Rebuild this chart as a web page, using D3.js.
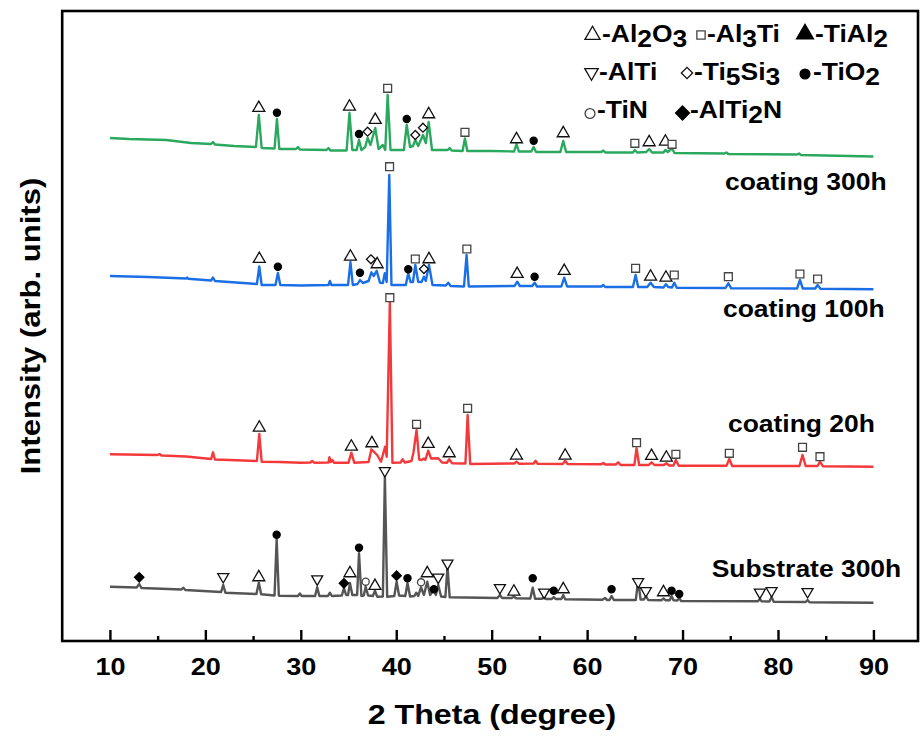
<!DOCTYPE html>
<html><head><meta charset="utf-8">
<script src="https://cdn.jsdelivr.net/npm/d3@7"></script>
<style>
html,body{margin:0;padding:0;background:#fff;}
svg text{font-family:"Liberation Sans",Arial,sans-serif;font-weight:bold;fill:#000;}
</style></head>
<body><svg id="chart" width="920" height="736"></svg>
<script>
// ---- data: [2theta, intensity (arb. units, stacked)] ----
const substrate300 = [[10.0,54.3],[12.8,53.5],[13.07,57],[13.3,53],[17.5,51.5],[17.7,53.3],[17.9,51],[21.65,49],[21.87,56],[22.1,48.3],[25.35,47],[25.6,58.3],[25.85,46.7],[27.25,45.5],[27.47,101.7],[27.7,45.3],[29.7,45],[29.9,47.5],[30.1,45],[31.5,45],[31.72,53.7],[31.95,45],[32.85,45],[33.05,48.3],[33.25,45],[34.3,45.5],[34.52,52.7],[34.75,46],[34.95,46],[35.15,58],[35.4,46],[35.9,46],[36.1,87.7],[36.35,45],[36.6,45.5],[36.8,54.3],[37.05,45.5],[37.55,45],[37.77,50.3],[38.0,44.3],[38.6,44.5],[38.81,165],[39.05,44.3],[39.8,45],[40.04,59.3],[40.3,45.5],[40.95,45],[41.18,57.7],[41.45,44.5],[41.9,45],[42.1,48.3],[42.3,45],[42.6,53.7],[42.9,46],[43.25,59.3],[43.55,46],[43.95,52],[44.15,46],[44.4,56],[44.7,44.5],[45.15,44],[45.37,74.3],[45.6,43.7],[50.6,43],[50.86,46],[51.1,43],[52.1,43],[52.33,44.5],[52.55,42.8],[54.05,42.5],[54.3,53.3],[54.55,42.3],[55.3,42.3],[55.5,44],[55.7,42],[56.3,42],[56.5,44],[56.7,42],[57.3,42],[57.5,46],[57.7,41.7],[61.6,41.3],[61.87,43],[62.1,41],[62.35,41],[62.56,45],[62.8,41],[65.1,41],[65.35,61],[65.6,41.5],[65.95,41.5],[66.16,45],[66.4,41],[67.8,40.8],[68.0,42.5],[68.2,40.8],[68.65,40.8],[68.85,45],[69.05,40.8],[69.45,40.5],[69.65,43],[69.85,40],[77.9,39.7],[78.1,42],[78.3,39.6],[79.1,39.5],[79.33,44],[79.55,39.3],[82.9,39],[83.1,41],[83.3,38.8],[90,38.3]];

const coating20 = [[10.0,186.7],[15.0,186],[15.2,187],[15.4,185.5],[18.0,184.5],[20.6,182],[20.8,188.7],[21.0,181.5],[24.7,180.3],[25.4,180],[25.65,207],[25.9,179.3],[27.8,179],[30.0,178.3],[31.0,178.5],[31.2,180],[31.4,178.3],[32.9,178.5],[33.0,183.7],[33.15,179],[33.3,181],[33.5,178.3],[35.0,178.3],[35.3,188.3],[35.6,178.3],[37.1,179],[37.4,191.7],[38.0,186],[38.4,179.3],[38.83,194.3],[39.0,184.3],[39.33,339],[39.6,178.3],[40.45,178.5],[40.66,181.7],[40.9,178.5],[41.6,180],[41.8,188.3],[42.13,211],[42.4,181.5],[42.65,181],[42.9,182.5],[43.05,181],[43.35,190.3],[43.65,182.5],[44.4,182.7],[44.8,178.5],[45.3,178.3],[45.55,181.7],[45.85,177.7],[47.25,177.5],[47.48,226],[47.75,177],[52.35,177.5],[52.6,179.3],[52.85,177.3],[54.4,177.5],[54.6,180.3],[54.8,177.3],[57.45,177],[57.7,180.3],[57.95,177],[61.5,176.7],[61.7,178],[61.9,176.5],[63.0,176.5],[63.26,178.7],[63.5,176],[64.95,176],[65.18,192.7],[65.45,176],[66.45,176],[66.75,178.7],[67.05,176],[68.05,176],[68.3,177.7],[68.6,175.5],[69.05,175.5],[69.3,181],[69.6,175.3],[74.6,175.3],[74.9,182],[75.2,175],[82.25,175],[82.57,186],[82.9,175],[84.15,175],[84.4,179.3],[84.7,174.8],[90,174.3]];

const coating100 = [[10.0,365],[14.0,364],[18.0,362.5],[18.1,363.5],[18.2,362.3],[20.6,360.5],[20.8,363.5],[21.0,360],[24.7,357.5],[25.4,357],[25.65,374.5],[25.9,356],[27.35,356],[27.6,368],[27.85,356],[30,355.5],[32.9,356],[33.05,360],[33.2,356],[34.95,356],[35.2,379],[35.45,356],[35.95,357],[36.2,361],[36.5,358],[37.1,360],[37.4,368.7],[37.65,365],[37.95,370.3],[38.3,358.3],[38.6,358],[38.8,367.7],[39.0,359],[39.27,466],[39.5,356],[41.0,356],[41.26,367.7],[41.5,359],[41.75,359],[42.0,376],[42.3,359.3],[42.65,359],[42.9,364.3],[43.1,360],[43.43,376],[43.8,356],[45.2,355.5],[45.45,358.3],[45.7,355],[47.1,354.5],[47.37,386],[47.6,354.5],[52.4,355],[52.67,359.3],[52.95,355],[54.25,355],[54.5,358.3],[54.75,354.5],[57.3,354.5],[57.6,363.3],[57.9,354.5],[61.5,354.5],[61.7,356],[61.9,354],[64.8,354],[65.08,366],[65.35,354],[66.3,354],[66.65,358.3],[67.0,354],[68.0,353.5],[68.26,356.7],[68.5,354],[68.9,353.5],[69.13,358.3],[69.4,353.3],[74.5,353],[74.8,357.7],[75.1,352.7],[82.0,352.5],[82.3,361],[82.6,352.5],[83.9,352.5],[84.15,356],[84.45,352.3],[90,351.7]];

const coating300 = [[10.0,503],[12.0,502],[15.9,501],[18.5,498],[20.6,497],[20.8,499],[21.0,496.5],[23.0,495],[25.3,494],[25.6,526],[25.9,493],[27.25,492.5],[27.5,522],[27.75,492],[29.5,492],[29.7,494],[29.9,491.5],[32.7,491],[32.9,493],[33.1,490.5],[34.8,490.5],[35.1,528],[35.4,491],[35.85,491],[36.1,501],[36.35,491],[36.75,494],[37.0,503],[37.3,496],[37.8,513],[38.15,492],[38.6,496],[38.85,491],[39.1,546],[39.4,491],[40.8,491],[41.1,516],[41.45,494],[41.75,495],[42.0,501],[42.3,495],[42.8,506],[43.1,498],[43.4,519],[43.75,491],[45.4,491],[45.6,493],[45.8,490.5],[46.95,490],[47.2,502.5],[47.45,490],[50.0,490],[52.35,489.5],[52.6,497],[52.85,489.5],[54.15,489.5],[54.4,494],[54.65,489],[57.2,489],[57.5,500],[57.8,489],[61.5,489],[61.7,490.5],[61.9,488.5],[64.8,488.5],[65.0,491],[65.25,488.5],[66.2,489],[66.5,492],[66.8,488.5],[68.0,488.5],[68.2,491],[68.45,489],[68.9,492.5],[69.15,488],[74.4,487.5],[74.6,488.5],[74.8,487],[82.0,486.5],[82.2,487.5],[82.4,486],[90.0,484.5]];

// phase markers: [2theta, intensity, phase]
const marks300 = [[25.6,533,"Al2O3"],[27.5,528.3,"TiO2"],[35.1,534.3,"Al2O3"],[36.1,507,"TiO2"],[37.0,509.3,"Ti5Si3"],[37.8,521,"Al2O3"],[39.1,552.7,"Al3Ti"],[41.1,522,"TiO2"],[42.0,506,"Ti5Si3"],[42.8,513.3,"Ti5Si3"],[43.4,526.7,"Al2O3"],[47.2,508.7,"Al3Ti"],[52.6,501.7,"Al2O3"],[54.4,500.3,"TiO2"],[57.5,507.7,"Al2O3"],[65.0,497.7,"Al3Ti"],[66.5,498.7,"Al2O3"],[68.2,499.3,"Al2O3"],[68.9,496.7,"Al3Ti"]];
const marks100 = [[25.65,382,"Al2O3"],[27.6,374.3,"TiO2"],[35.2,384.3,"Al2O3"],[36.2,368.3,"TiO2"],[37.35,381.7,"Ti5Si3"],[38.0,376.7,"Al2O3"],[39.3,474.3,"Al3Ti"],[41.26,371.7,"TiO2"],[42.0,382,"Al3Ti"],[42.9,372,"Ti5Si3"],[43.43,381.7,"Al2O3"],[47.4,392,"Al3Ti"],[52.67,367,"Al2O3"],[54.5,364.3,"TiO2"],[57.6,370,"Al2O3"],[65.08,372.7,"Al3Ti"],[66.65,364.3,"Al2O3"],[68.26,363.3,"Al2O3"],[69.13,366,"Al3Ti"],[74.8,364.3,"Al3Ti"],[82.3,367,"Al3Ti"],[84.15,362,"Al3Ti"]];
const marks20 = [[25.65,213.3,"Al2O3"],[35.3,194.3,"Al2O3"],[37.45,197.7,"Al2O3"],[39.33,343.3,"Al3Ti"],[42.13,216.7,"Al3Ti"],[43.35,197,"Al2O3"],[45.55,187.7,"Al2O3"],[47.48,232.7,"Al3Ti"],[52.6,185.3,"Al2O3"],[57.7,185.3,"Al2O3"],[65.18,198.3,"Al3Ti"],[66.75,185,"Al2O3"],[68.3,183.3,"Al2O3"],[69.3,186.7,"Al3Ti"],[74.9,187.7,"Al3Ti"],[82.57,193.7,"Al3Ti"],[84.4,184.3,"Al3Ti"]];
const marksSub = [[13.07,63.7,"AlTi2N"],[21.87,64.3,"AlTi"],[25.6,63.7,"Al2O3"],[27.47,106.3,"TiO2"],[31.72,62,"AlTi"],[34.52,57.7,"AlTi2N"],[35.15,67.7,"Al2O3"],[36.1,93.3,"TiO2"],[36.8,59.3,"TiN"],[37.77,55,"Al2O3"],[38.81,170.3,"AlTi"],[40.04,65.3,"AlTi2N"],[41.18,62.7,"TiO2"],[42.6,58.7,"TiN"],[43.25,67.7,"Al2O3"],[43.95,51.7,"TiO2"],[44.4,63.7,"AlTi"],[45.37,77.7,"AlTi"],[50.86,53.3,"AlTi"],[52.33,49.3,"Al2O3"],[54.3,62.7,"TiO2"],[55.5,48.7,"AlTi"],[56.5,50.3,"TiO2"],[57.5,51.7,"Al2O3"],[62.56,51.7,"TiO2"],[65.35,59.3,"AlTi"],[66.16,50.3,"AlTi"],[68.0,48.7,"Al2O3"],[68.85,50.3,"TiO2"],[69.65,47,"TiO2"],[78.1,48.7,"AlTi"],[79.33,50.3,"AlTi"],[83.1,49.3,"AlTi"]];

const seriesNames = ["Substrate 300h","coating 20h","coating 100h","coating 300h"];
const seriesColors = ["#555555","#f4393b","#1b6fe6","#2aa85e"];
const xTicks = [10,20,30,40,50,60,70,80,90];
const xMinorTicks = [15,25,35,45,55,65,75,85];
const phases = ["Al2O3","Al3Ti","TiAl2","AlTi","Ti5Si3","TiO2","TiN","AlTi2N"];

// ---- drawing ----
const svg = d3.select("#chart");
const L = 62.2, R = 918, T = 11, B = 641;
const x = d3.scaleLinear().domain([5, 94.67]).range([L, R]);
const y = d3.scaleLinear().domain([0, 630]).range([B, T]);
const SX = 1.15;

// marker shapes
const shapes = {
  "Al2O3": {type: d3.symbolTriangle, size: 62, rot: 0, fill: "#fff", stroke: "#111"},
  "Al3Ti": {type: d3.symbolSquare, size: 62, rot: 0, fill: "#fff", stroke: "#444"},
  "TiAl2": {type: d3.symbolTriangle, size: 62, rot: 0, fill: "#000", stroke: "#000"},
  "AlTi": {type: d3.symbolTriangle, size: 52, rot: 180, fill: "#fff", stroke: "#111"},
  "Ti5Si3": {type: d3.symbolSquare, size: 40, rot: 45, fill: "#fff", stroke: "#111"},
  "TiO2": {type: d3.symbolCircle, size: 40, rot: 0, fill: "#000", stroke: "#000"},
  "TiN": {type: d3.symbolCircle, size: 40, rot: 0, fill: "#fff", stroke: "#444"},
  "AlTi2N": {type: d3.symbolSquare, size: 44, rot: 45, fill: "#000", stroke: "#000"}
};
function drawSymbol(g, phase, cx, cy, scale) {
  const s = shapes[phase];
  g.append("path")
    .attr("d", d3.symbol().type(s.type).size(s.size * (scale || 1))())
    .attr("transform", `translate(${cx},${cy}) rotate(${s.rot})`)
    .attr("fill", s.fill).attr("stroke", s.stroke).attr("stroke-width", 1.3);
}

const line = d3.line().x(d => x(d[0])).y(d => y(d[1]));
const allSeries = [substrate300, coating20, coating100, coating300];
const allMarks = [marksSub, marks20, marks100, marks300];

const plot = svg.append("g");
allSeries.forEach((s, i) => {
  plot.append("path").datum(s).attr("d", line)
    .attr("fill", "none").attr("stroke", seriesColors[i])
    .attr("stroke-width", 2.4).attr("stroke-linejoin", "round");
});
const mg = svg.append("g");
allMarks.forEach(ms => ms.forEach(m => drawSymbol(mg, m[2], x(m[0]), y(m[1]))));

// series labels
const labelPos = [[711.7, 576.7],[728, 431.7],[723, 316.7],[725, 190]];
seriesNames.forEach((n, i) => {
  svg.append("g").attr("transform", `translate(${labelPos[i][0]},${labelPos[i][1]}) scale(${SX},1)`)
    .append("text").attr("font-size", 23).text(n);
});

// frame
svg.append("rect").attr("x", L).attr("y", T).attr("width", R - L).attr("height", B - T)
  .attr("fill", "none").attr("stroke", "#000").attr("stroke-width", 2.6);

// x axis
const ax = svg.append("g").attr("transform", `translate(0,${B})`)
  .call(d3.axisBottom(x).tickValues(xTicks).tickSize(-11).tickPadding(17).tickFormat(d3.format("d")));
ax.select(".domain").remove();
ax.selectAll(".tick line").attr("stroke", "#000").attr("stroke-width", 2.4);
ax.selectAll(".tick text").attr("font-size", 23.5).attr("fill", "#000")
  .attr("font-family", "'Liberation Sans',Arial,sans-serif").attr("font-weight", "bold")
  .attr("transform", `scale(${SX},1)`);
const axm = svg.append("g").attr("transform", `translate(0,${B})`)
  .call(d3.axisBottom(x).tickValues(xMinorTicks).tickSize(-5).tickFormat(""));
axm.select(".domain").remove();
axm.selectAll(".tick line").attr("stroke", "#000").attr("stroke-width", 2.4);

// axis titles
svg.append("g").attr("transform", `translate(492,724) scale(${SX},1)`)
  .append("text").attr("text-anchor", "middle").attr("font-size", 28).text("2 Theta (degree)");
svg.append("g").attr("transform", `translate(40,326) rotate(-90) scale(${SX},1)`)
  .append("text").attr("text-anchor", "middle").attr("font-size", 27).text("Intensity (arb. units)");

// legend
const legendItems = [
  {p: "Al2O3", sx: 592.5, sy: 35, tx: 602, ty: 41.7, parts: [["-Al",0],["2",1],["O",0],["3",1]], sc: 1.6},
  {p: "Al3Ti", sx: 701, sy: 35, tx: 707, ty: 41.7, parts: [["-Al",0],["3",1],["Ti",0]], sc: 1.1},
  {p: "TiAl2", sx: 805, sy: 34, tx: 815, ty: 41.7, parts: [["-TiAl",0],["2",1]], sc: 2.0},
  {p: "AlTi", sx: 591.5, sy: 72.5, tx: 599, ty: 80, parts: [["-AlTi",0]], sc: 1.5},
  {p: "Ti5Si3", sx: 687, sy: 73, tx: 694, ty: 80, parts: [["-Ti",0],["5",1],["Si",0],["3",1]], sc: 1.6},
  {p: "TiO2", sx: 805, sy: 74, tx: 813, ty: 80, parts: [["-TiO",0],["2",1]], sc: 1.9},
  {p: "TiN", sx: 590, sy: 113.5, tx: 597, ty: 118.3, parts: [["-TiN",0]], sc: 1.9},
  {p: "AlTi2N", sx: 682.5, sy: 113, tx: 690, ty: 118.3, parts: [["-AlTi",0],["2",1],["N",0]], sc: 2.2}
];
const lg = svg.append("g");
legendItems.forEach(it => {
  drawSymbol(lg, it.p, it.sx, it.sy, it.sc);
  const t = lg.append("g").attr("transform", `translate(${it.tx},${it.ty}) scale(${SX},1)`)
    .append("text").attr("font-size", 23);
  let prev = 0;
  it.parts.forEach(pt => {
    const shift = pt[1] ? 5 : 0;
    t.append("tspan").attr("dy", shift - prev).text(pt[0]);
    prev = shift;
  });
});
</script></body></html>
